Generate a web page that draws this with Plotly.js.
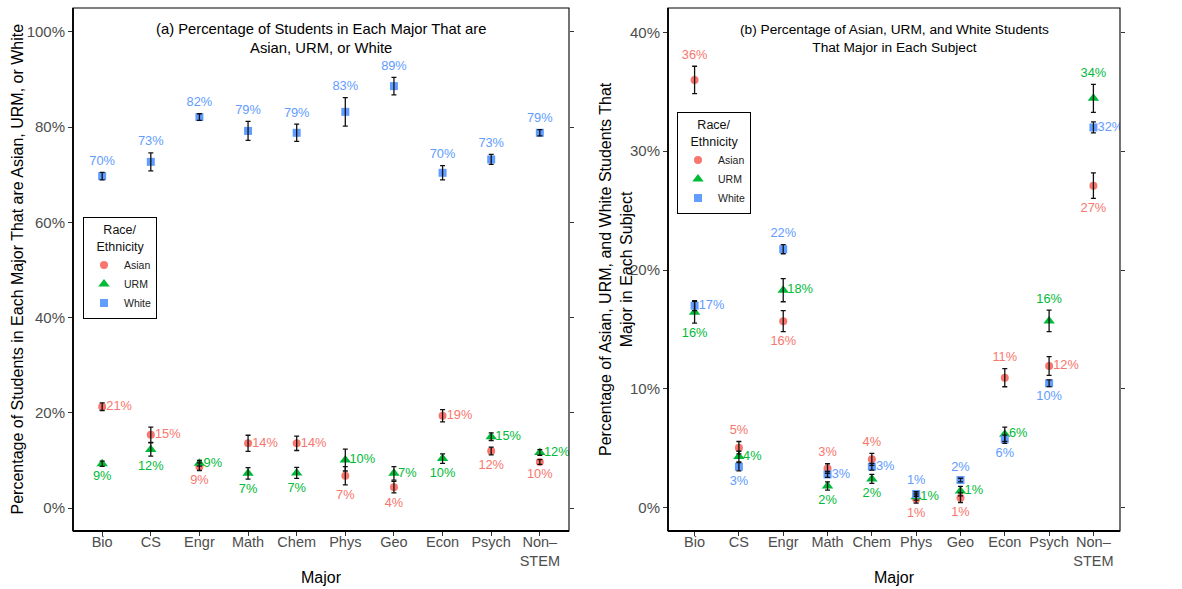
<!DOCTYPE html>
<html>
<head>
<meta charset="utf-8">
<script src="https://cdn.plot.ly/plotly-3.0.1.min.js"></script>
<style>html,body{margin:0;padding:0;background:#fff;}#chart{width:1182px;height:589px;}</style>
</head>
<body>
<div id="chart"></div>
<script>
// ---------- data ----------
const categories = ["Bio", "CS", "Engr", "Math", "Chem", "Phys", "Geo", "Econ", "Psych", "Non-STEM"];
const tickLabels = ["Bio", "CS", "Engr", "Math", "Chem", "Phys", "Geo", "Econ", "Psych", "Non\u2013<br>STEM"];
const yTicksA = [0, 20, 40, 60, 80, 100];
const yTicksB = [0, 10, 20, 30, 40];

// Panel (a): % of students in each major that are Asian / URM / White
const aAsian    = [21.3, 15.4, 8.7, 13.6, 13.6, 6.8, 4.4, 19.4, 12.0, 9.7];
const aAsianErr = [0.8, 1.6, 0.8, 1.7, 1.5, 1.9, 1.2, 1.3, 0.8, 0.5];
const aURM      = [9.3, 12.3, 9.4, 7.3, 7.4, 10.1, 7.3, 10.4, 15.0, 11.7];
const aURMErr   = [0.55, 1.4, 0.6, 1.2, 1.15, 2.3, 1.4, 1.0, 0.8, 0.6];
const aWhite    = [69.7, 72.7, 82.1, 79.2, 78.8, 83.2, 88.6, 70.4, 73.2, 78.8];
const aWhiteErr = [0.8, 1.9, 0.7, 2.0, 1.8, 3.0, 1.85, 1.5, 1.05, 0.65];

// Panel (b): % of Asian / URM / White students that major in each subject
const bAsian    = [36.0, 5.05, 15.7, 3.3, 4.07, 0.73, 0.84, 10.94, 11.93, 27.1];
const bAsianErr = [1.15, 0.52, 0.88, 0.4, 0.5, 0.35, 0.4, 0.76, 0.79, 1.07];
const bURM      = [16.45, 4.3, 18.3, 1.83, 2.42, 0.93, 1.4, 6.18, 15.72, 34.45];
const bURMErr   = [0.91, 0.45, 0.97, 0.35, 0.38, 0.3, 0.4, 0.6, 0.9, 1.18];
const bWhite    = [17.0, 3.45, 21.75, 2.8, 3.45, 1.15, 2.33, 5.76, 10.47, 32.0];
const bWhiteErr = [0.42, 0.35, 0.38, 0.25, 0.28, 0.2, 0.15, 0.34, 0.28, 0.46];

// label placement (style)
const aAsianPos = ["right","right","bottom","right","right","bottom","bottom","right","bottom","bottom"];
const aURMPos   = ["bottom","bottom","right","bottom","bottom","right","right","bottom","right","right"];
const aWhitePos = ["top","top","top","top","top","top","top","top","top","top"];
const bAsianPos = ["top","top","bottom","top","top","bottom","bottom","top","right","bottom"];
const bURMPos   = ["bottom","right","right","bottom","bottom","right","right","right","top","top"];
const bWhitePos = ["right","bottom","top","right","right","top","top","bottom","bottom","right"];

// ---------- styles ----------
const FONT = "Liberation Sans, Arial, sans-serif";
const colors = {Asian: "#F8766D", URM: "#00BA38", White: "#619CFF"};
const symbols = {Asian: "circle", URM: "triangle-up", White: "square"};
const sizes = {Asian: 8, URM: 10, White: 8};

const traces = [];

function addSeries(name, vals, xa, ya, legendId) {
  traces.push({
    type: "scatter", mode: "markers", name: name,
    x: categories, y: vals, xaxis: xa, yaxis: ya,
    legend: legendId, showlegend: true,
    marker: {color: colors[name], symbol: symbols[name], size: sizes[name]},
    hoverinfo: "skip"
  });
}
function addErrors(name, vals, errs, xa, ya) {
  traces.push({
    type: "scatter", mode: "markers", name: name + " err",
    x: categories, y: vals, xaxis: xa, yaxis: ya, showlegend: false,
    marker: {color: "rgba(0,0,0,0)", size: 1},
    error_y: {type: "data", array: errs, visible: true, color: "#111", thickness: 1.3, width: 2.5},
    hoverinfo: "skip"
  });
}
function addLabels(name, vals, errs, pos, xa, ya) {
  const groups = {top: "top center", bottom: "bottom center", right: "middle right"};
  Object.keys(groups).forEach(function(p) {
    const xs = [], ys = [], ts = [];
    vals.forEach(function(v, i) {
      if (pos[i] !== p) return;
      xs.push(categories[i]);
      ys.push(p === "top" ? v + errs[i] : (p === "bottom" ? v - errs[i] : v));
      ts.push(Math.round(v) + "%");
    });
    if (!xs.length) return;
    traces.push({
      type: "scatter", mode: "markers+text", x: xs, y: ys, text: ts,
      textposition: groups[p], xaxis: xa, yaxis: ya, showlegend: false,
      marker: {color: "rgba(0,0,0,0)", size: 5},
      textfont: {family: FONT, size: 12.8, color: colors[name]},
      hoverinfo: "skip"
    });
  });
}

const panelA = [["Asian", aAsian, aAsianErr, aAsianPos], ["URM", aURM, aURMErr, aURMPos], ["White", aWhite, aWhiteErr, aWhitePos]];
const panelB = [["Asian", bAsian, bAsianErr, bAsianPos], ["URM", bURM, bURMErr, bURMPos], ["White", bWhite, bWhiteErr, bWhitePos]];

panelA.forEach(s => addSeries(s[0], s[1], "x", "y", "legend"));
panelB.forEach(s => addSeries(s[0], s[1], "x2", "y2", "legend2"));
panelA.forEach(s => addErrors(s[0], s[1], s[2], "x", "y"));
panelB.forEach(s => addErrors(s[0], s[1], s[2], "x2", "y2"));
panelA.forEach(s => addLabels(s[0], s[1], s[2], s[3], "x", "y"));
panelB.forEach(s => addLabels(s[0], s[1], s[2], s[3], "x2", "y2"));

// ---------- layout ----------
const W = 1182, H = 589;
const px = v => v / W, py = v => 1 - v / H;
const domA = [px(73), px(569)], domB = [px(668), px(1120)];
const domY = [py(531), py(8)];

function xAxis(dom, anchor) {
  return {
    domain: dom, anchor: anchor, type: "category", categoryorder: "array", categoryarray: categories,
    range: [-0.6, 9.6], tickmode: "array", tickvals: categories, ticktext: tickLabels,
    showline: false, ticks: "outside", ticklen: 4, tickwidth: 1, tickcolor: "#333",
    ticklabelstandoff: -6,
    showgrid: false, zeroline: false, fixedrange: true,
    tickfont: {family: FONT, size: 14.5, color: "#4D4D4D"}
  };
}
function yAxis(dom, anchor, range, tv) {
  return {
    domain: dom, anchor: anchor, range: range, tickmode: "array", tickvals: tv,
    ticktext: tv.map(v => v + "%"),
    showline: false, ticks: "outside", ticklen: 4, tickwidth: 1, tickcolor: "#333", mirror: "ticks",
    showgrid: false, zeroline: false, fixedrange: true,
    tickfont: {family: FONT, size: 15, color: "#4D4D4D"}
  };
}

function border(xr, yr) {
  return [
    {type: "rect", xref: xr + " domain", yref: yr + " domain", x0: 0, x1: 1, y0: 0, y1: 1, line: {color: "#000", width: 1.1}},
    {type: "line", xref: xr + " domain", yref: yr + " domain", x0: 0, x1: 0, y0: 0, y1: 1, line: {color: "#000", width: 1.8}},
    {type: "line", xref: xr + " domain", yref: yr + " domain", x0: 0, x1: 1, y0: 0, y1: 0, line: {color: "#000", width: 1.8}}
  ];
}

const legendCommon = {
  xanchor: "left", yanchor: "top", bgcolor: "#fff", bordercolor: "#000", borderwidth: 1,
  font: {family: FONT, size: 10.5, color: "#222"},
  title: {text: "&nbsp;&nbsp;&nbsp;&nbsp;&nbsp;Race/<br>&nbsp;&nbsp;&nbsp;Ethnicity", font: {family: FONT, size: 12.5, color: "#111"}},
  itemclick: false, itemdoubleclick: false, tracegroupgap: 0
};

const layout = {
  width: W, height: H, margin: {l: 0, r: 0, t: 0, b: 0},
  paper_bgcolor: "#fff", plot_bgcolor: "#fff", showlegend: true, hovermode: false,
  font: {family: FONT},
  xaxis: xAxis(domA, "y"),
  yaxis: yAxis(domY, "x", [-4.8, 105], yTicksA),
  xaxis2: xAxis(domB, "y2"),
  yaxis2: yAxis(domY, "x2", [-1.96, 42.05], yTicksB),
  legend: Object.assign({x: px(83), y: py(217)}, legendCommon),
  legend2: Object.assign({x: px(677), y: py(112)}, legendCommon),
  shapes: border("x", "y").concat(border("x2", "y2")),
  annotations: [
    {text: "(a) Percentage of Students in Each Major That are<br>Asian, URM, or White", xref: "paper", yref: "paper",
     x: px(321), y: py(38.5), xanchor: "center", yanchor: "middle", showarrow: false,
     font: {family: FONT, size: 14.8, color: "#000"}},
    {text: "(b) Percentage of Asian, URM, and White Students<br>That Major in Each Subject", xref: "paper", yref: "paper",
     x: px(894), y: py(38.5), xanchor: "center", yanchor: "middle", showarrow: false,
     font: {family: FONT, size: 13.7, color: "#000"}},
    {text: "Major", xref: "paper", yref: "paper", x: px(321), y: py(577), xanchor: "center", yanchor: "middle",
     showarrow: false, font: {family: FONT, size: 16, color: "#000"}},
    {text: "Major", xref: "paper", yref: "paper", x: px(894), y: py(577), xanchor: "center", yanchor: "middle",
     showarrow: false, font: {family: FONT, size: 16, color: "#000"}},
    {text: "Percentage of Students in Each Major That are Asian, URM, or White", xref: "paper", yref: "paper",
     x: px(17), y: py(269.5), xanchor: "center", yanchor: "middle", textangle: -90,
     showarrow: false, font: {family: FONT, size: 16, color: "#000"}},
    {text: "Percentage of Asian, URM, and White Students That<br>Major in Each Subject", xref: "paper", yref: "paper",
     x: px(616.5), y: py(269.5), xanchor: "center", yanchor: "middle", textangle: -90,
     showarrow: false, font: {family: FONT, size: 16, color: "#000"}}
  ]
};

Plotly.newPlot("chart", traces, layout, {displayModeBar: false, staticPlot: true});
</script>
</body>
</html>
